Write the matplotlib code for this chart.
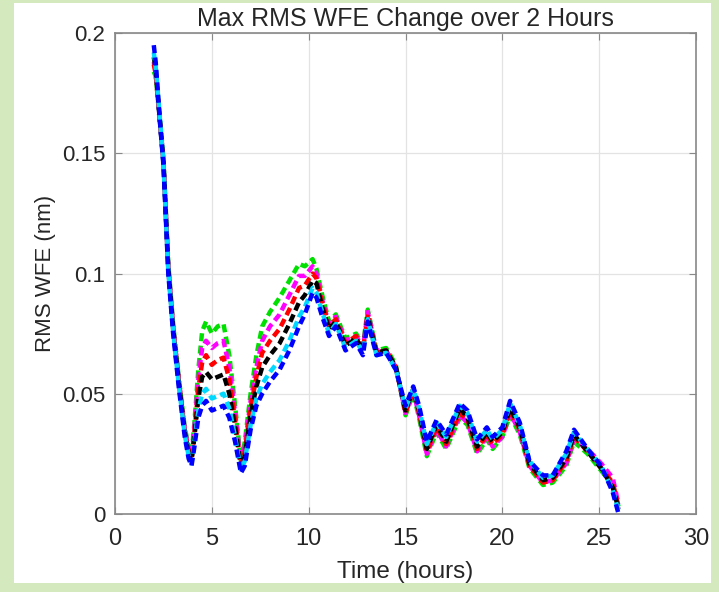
import matplotlib
matplotlib.use("Agg")
import matplotlib.pyplot as plt
from matplotlib.patches import Rectangle

plt.rcParams['font.family'] = ['Liberation Sans', 'DejaVu Sans']

# time (hours)
hours = [2.0, 2.1, 2.3, 2.5, 2.75, 3.0, 3.3, 3.6, 3.8, 3.95,
         4.1, 4.3, 4.5, 4.7, 5.0, 5.3, 5.6, 5.9, 6.2, 6.5,
         6.7, 7.0, 7.3, 7.6, 8.0, 8.5, 9.0, 9.5, 9.8, 10.2,
         10.4, 10.7, 11.05, 11.4, 11.9, 12.45, 12.8, 13.05, 13.5, 14.0,
         14.5, 15.0, 15.4, 15.7, 16.1, 16.6, 17.1, 17.8, 18.2, 18.7,
         19.2, 19.5, 20.0, 20.4, 20.9, 21.4, 22.1, 22.6, 23.3, 23.7,
         24.4, 25.1, 25.7, 26.0]

# RMS WFE (nm), one list per case
wfe_green = [.184, .182, .166, .148, .104, .079, .056, .036, .028, .025,
             .038, .060, .076, .080, .075, .078, .079, .066, .045, .022,
             .030, .050, .066, .078, .084, .090, .097, .104, .103, .106,
             .102, .091, .080, .083, .073, .075, .070, .085, .068, .069,
             .062, .041, .050, .040, .024, .034, .027, .040, .037, .025,
             .031, .027, .032, .041, .033, .019, .012, .013, .020, .030,
             .025, .018, .012, .003]
wfe_magenta = [.188, .184, .165, .147, .103, .078, .055, .035, .027, .024,
               .036, .056, .069, .072, .069, .071, .072, .061, .042, .021,
               .028, .047, .061, .072, .078, .083, .091, .099, .099, .103,
               .100, .089, .079, .082, .072, .074, .069, .084, .068, .068,
               .061, .042, .051, .041, .025, .035, .028, .041, .038, .026,
               .032, .028, .032, .042, .034, .020, .013, .014, .021, .031,
               .027, .021, .015, .004]
wfe_red = [.187, .183, .164, .147, .102, .077, .055, .034, .026, .023,
           .034, .052, .063, .066, .062, .064, .065, .056, .039, .020,
           .026, .044, .057, .067, .072, .077, .085, .094, .095, .100,
           .098, .088, .078, .081, .071, .074, .068, .083, .067, .068,
           .061, .042, .051, .042, .026, .036, .029, .042, .039, .027,
           .033, .029, .033, .043, .035, .020, .013, .014, .022, .032,
           .026, .019, .013, .003]
wfe_black = [.190, .185, .165, .146, .102, .077, .054, .034, .025, .022,
             .032, .048, .057, .059, .056, .057, .058, .050, .036, .019,
             .024, .041, .053, .061, .066, .071, .079, .088, .091, .097,
             .096, .086, .077, .080, .070, .073, .068, .082, .067, .068,
             .061, .043, .052, .043, .027, .037, .030, .044, .040, .028,
             .034, .030, .034, .044, .036, .021, .014, .015, .023, .033,
             .026, .019, .011, .002]
wfe_cyan = [.192, .186, .166, .146, .101, .076, .053, .033, .024, .021,
            .030, .043, .050, .052, .048, .049, .050, .044, .032, .018,
            .022, .037, .048, .054, .059, .064, .072, .082, .086, .094,
            .092, .084, .075, .079, .069, .072, .067, .081, .066, .067,
            .060, .044, .052, .044, .029, .038, .032, .045, .042, .030,
            .035, .031, .035, .046, .037, .022, .015, .016, .025, .034,
            .027, .020, .010, .001]
wfe_blue = [.195, .188, .165, .145, .100, .075, .052, .032, .023, .020,
            .028, .040, .045, .047, .043, .044, .045, .040, .030, .017,
            .020, .035, .045, .050, .055, .060, .068, .078, .083, .092,
            .090, .082, .074, .078, .068, .071, .066, .080, .066, .067,
            .060, .045, .053, .045, .030, .039, .033, .046, .043, .031,
            .036, .032, .036, .047, .038, .022, .016, .016, .026, .035,
            .027, .020, .009, .000]

series = [(wfe_green, '#00e000'), (wfe_magenta, '#ff00ff'),
          (wfe_red, '#ff0000'), (wfe_black, '#000000'),
          (wfe_cyan, '#00d8ff'), (wfe_blue, '#0000ff')]

xticks = [0, 5, 10, 15, 20, 25, 30]
yticks = [0, 0.05, 0.1, 0.15, 0.2]
ytick_labels = ['0', '0.05', '0.1', '0.15', '0.2']

fig = plt.figure(figsize=(7.19, 5.92), dpi=100, facecolor='#d4eabe')
# white panel behind the plot
fig.patches.append(Rectangle((0.0195, 0.015), 0.9695, 0.98, transform=fig.transFigure,
                             facecolor='white', edgecolor='none', zorder=-5))

ax = fig.add_axes([0.160, 0.132, 0.808, 0.812])
for vals, col in series:
    ax.plot(hours, vals, color=col, lw=3.2, linestyle=(0, (1.8, 1.0)))

ax.set_xlim(0, 30)
ax.set_ylim(0, 0.2)
ax.set_xticks(xticks)
ax.set_yticks(yticks)
ax.set_yticklabels(ytick_labels)
ax.grid(True, color='#e3e3e3', lw=0.9)
ax.set_axisbelow(True)
ax.tick_params(direction='in', length=5, width=0.8, colors='#888888',
               labelcolor='#262626', top=True, right=True)
ax.tick_params(axis='y', labelsize=16, pad=7)
ax.tick_params(axis='x', labelsize=17, pad=10)
for sp in ax.spines.values():
    sp.set_color('#888888')
    sp.set_linewidth(1.2)

ax.set_title('Max RMS WFE Change over 2 Hours', fontsize=18, color='#262626', pad=5)
ax.set_xlabel('Time (hours)', fontsize=17.5, color='#262626', labelpad=8)
ax.set_ylabel('RMS WFE (nm)', fontsize=16, color='#262626', labelpad=4)

fig.savefig('out.png', dpi=100, facecolor=fig.get_facecolor())
